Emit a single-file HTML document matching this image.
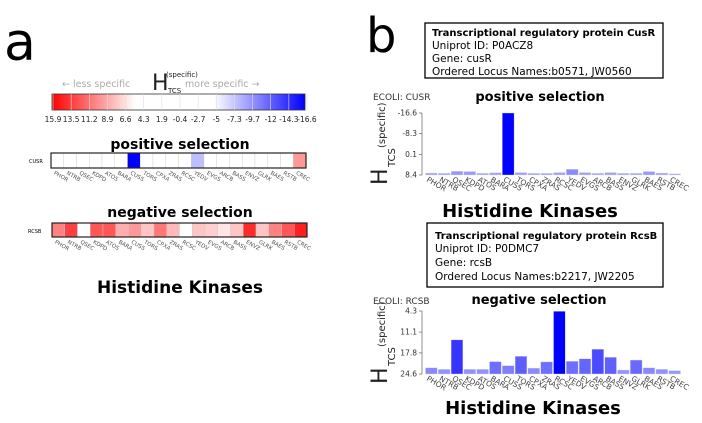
<!DOCTYPE html>
<html><head><meta charset="utf-8"><style>
html,body{margin:0;padding:0;background:#fff;}
svg{display:block;font-family:"DejaVu Sans","Liberation Sans",sans-serif;}
</style></head><body>
<svg id="fig" width="702" height="423" viewBox="0 0 702 423">
  <text x="4" y="60" font-size="52" fill="#000">a</text>
  <text x="366" y="52" font-size="48" fill="#000">b</text>

  <g>
    <text x="62" y="87" font-size="9.5" fill="#aaa">← less specific</text>
    <text x="185" y="87" font-size="9.5" fill="#aaa">more specific →</text>
    <text x="152" y="90" font-size="22" fill="#222">H</text>
    <text x="168" y="93" font-size="7" fill="#222">TCS</text>
    <text x="166" y="77" font-size="7" fill="#222">(specific)</text>
    <defs>
      <linearGradient id="cg" x1="0" x2="1" y1="0" y2="0">
        <stop offset="0" stop-color="#ff0000"/>
        <stop offset="0.33" stop-color="#fff"/>
        <stop offset="0.64" stop-color="#fff"/>
        <stop offset="1" stop-color="#0000ff"/>
      </linearGradient>
    </defs>
    <rect x="52" y="94" width="253" height="16" fill="url(#cg)" stroke="#333" stroke-width="0.8"/>
    <g id="cbticks"></g>
  </g>

  <text x="180" y="149" font-size="14" font-weight="bold" text-anchor="middle">positive selection</text>
  <text x="180" y="217" font-size="14" font-weight="bold" text-anchor="middle">negative selection</text>
  <text x="29" y="163" font-size="5">CUSR</text>
  <text x="28" y="233" font-size="5">RCSB</text>
  <g id="hm1"></g>
  <g id="hm2"></g>
  <text x="180" y="293" font-size="17" font-weight="bold" text-anchor="middle">Histidine Kinases</text>

  <g>
    <rect x="425" y="23" width="238" height="55" fill="#fff" stroke="#000" stroke-width="1.3"/>
    <text x="432" y="36" font-size="10" font-weight="bold">Transcriptional regulatory protein CusR</text>
    <text x="432" y="49" font-size="10.5">Uniprot ID: P0ACZ8</text>
    <text x="432" y="62" font-size="10.5">Gene: cusR</text>
    <text x="432" y="75" font-size="10.5">Ordered Locus Names:b0571, JW0560</text>
  </g>
  <g>
    <rect x="427" y="223" width="236" height="64" fill="#fff" stroke="#000" stroke-width="1.3"/>
    <text x="435" y="239" font-size="10" font-weight="bold">Transcriptional regulatory protein RcsB</text>
    <text x="435" y="252" font-size="10.5">Uniprot ID: P0DMC7</text>
    <text x="435" y="266" font-size="10.5">Gene: rcsB</text>
    <text x="435" y="280" font-size="10.5">Ordered Locus Names:b2217, JW2205</text>
  </g>

  <text x="373" y="100" font-size="9" fill="#333">ECOLI: CUSR</text>
  <text x="540" y="101" font-size="13" font-weight="bold" text-anchor="middle">positive selection</text>
  <text x="373" y="304" font-size="9" fill="#333">ECOLI: RCSB</text>
  <text x="539" y="304" font-size="13" font-weight="bold" text-anchor="middle">negative selection</text>
  <g id="bc1"></g>
  <g id="bc2"></g>
  <text x="530" y="217" font-size="18" font-weight="bold" text-anchor="middle">Histidine Kinases</text>
  <text x="533" y="414" font-size="18" font-weight="bold" text-anchor="middle">Histidine Kinases</text>
</svg>
<script>
const kinases = ["PHOR","NTRB","QSEC","KDPD","ATOS","BARA","CUSS","TORS","CPXA","ZRAS","RCSC","YEDV","EVGS","ARCB","BASS","ENVZ","GLRK","BAES","RSTB","CREC"];
const colorbarTicks = ["15.9","13.5","11.2","8.9","6.6","4.3","1.9","-0.4","-2.7","-5","-7.3","-9.7","-12","-14.3","-16.6"];
const heatPositive = [2,2,2,2,2,2,-16.6,2,2,2,2,-8,2,2,2,2,2,2,2,9];
const heatNegative = [10,13,3,12,12,8,9,7,10.5,7.5,3,7,6.5,5.5,7,14,7,10,12,14.5];
const pos1Ticks = [-16.6,-8.3,0.1,8.4];
const pos1Values = [7.6,7.7,6.9,7.0,7.7,7.5,-16.6,7.4,7.7,7.7,7.4,6.1,7.4,7.7,7.4,7.7,7.7,7.0,7.6,7.9];
const neg2Ticks = [4.3,11.1,17.8,24.6];
const neg2Values = [22.6,23.1,13.6,23.1,23.1,20.6,21.9,18.9,22.7,20.7,4.4,20.5,19.7,16.6,19.2,23.3,20.1,22.6,23.1,23.5];

const NS="http://www.w3.org/2000/svg";
function mk(tag,attrs,parent){const e=document.createElementNS(NS,tag);for(const k in attrs)e.setAttribute(k,attrs[k]);parent.appendChild(e);return e;}
function heatColor(v){
  if(v>=4.3){const t=Math.min(1,(v-4.3)/11.6);const c=Math.round(255*(1-t));return `rgb(255,${c},${c})`;}
  if(v<=-5){const t=Math.min(1,(-5-v)/11.6);const c=Math.round(255*(1-t));return `rgb(${c},${c},255)`;}
  return "#fff";
}
const cb=document.getElementById('cbticks');
colorbarTicks.forEach((t,i)=>{
  const x=53+i*(254/14);
  const ln=mk('line',{x1:x,x2:x,y1:94,y2:110,stroke:'#ddd','stroke-width':0.6},cb);
  
  
  const tx=mk('text',{x:x,y:122,'font-size':7.5,'text-anchor':'middle',fill:'#222'},cb);
  tx.textContent=t;
  
  
});
function heatRow(g,vals,x0,x1,y0,y1){
  const w=(x1-x0)/vals.length;
  vals.forEach((v,i)=>{
    const r=mk('rect',{x:x0+i*w,y:y0,width:w,height:y1-y0,fill:heatColor(v),stroke:'#ccc','stroke-width':0.4},g);
    
    
    const cx=x0+i*w+w/2-4, cy=y1+6;
    const t=mk('text',{x:cx,y:cy,'font-size':5.5,fill:'#555',transform:`rotate(30 ${cx} ${cy})`},g);
    t.textContent=kinases[i];
    
    
  });
  const b=mk('rect',{x:x0,y:y0,width:x1-x0,height:y1-y0,fill:'none',stroke:'#222','stroke-width':1.2},g);
  
  
}
heatRow(document.getElementById('hm1'),heatPositive,51,306,153,168);
heatRow(document.getElementById('hm2'),heatNegative,52,307,223,237);

function barChart(g,vals,ticks,yTop,yBot,x0,x1,axisX){
  const tMin=ticks[0],tMax=ticks[ticks.length-1];
  const ys=v=>yTop+(v-tMin)/(tMax-tMin)*(yBot-yTop);
  const w=(x1-x0)/vals.length;
  vals.forEach((v,i)=>{
    const frac=(tMax-v)/(tMax-tMin);
    const a=0.22+0.78*Math.sqrt(frac);
    const y=ys(v);
    const r=mk('rect',{x:x0+i*w+0.5,y:y,width:w-1,height:Math.max(0.5,yBot-y),fill:`rgba(0,0,255,${a.toFixed(3)})`,stroke:'#ddd','stroke-width':0.4},g);
    
    
    const cx=x0+i*w+1, cy=yBot+6;
    const t=mk('text',{x:cx,y:cy,'font-size':7.5,fill:'#444',transform:`rotate(30 ${cx} ${cy})`},g);
    t.textContent=kinases[i];
    
    
  });
  const ax=mk('line',{x1:axisX,x2:axisX,y1:yTop,y2:yBot,stroke:'#777','stroke-width':0.8},g);
  
  
  ticks.forEach(tv=>{
    const y=ys(tv);
    const tk=mk('line',{x1:axisX-3,x2:axisX,y1:y,y2:y,stroke:'#777','stroke-width':0.8},g);
    
    
    const t=mk('text',{x:axisX-5,y:y+2.5,'font-size':7.5,'text-anchor':'end',fill:'#333'},g);
    t.textContent=tv;
    
    
  });
  const yt=mk('g',{transform:`translate(387,${yBot+10}) rotate(-90)`},g);
  
  
  const h=mk('text',{x:0,y:0,'font-size':22,fill:'#222'},yt);h.textContent='H';
  const s=mk('text',{x:18,y:8,'font-size':10,fill:'#222'},yt);s.textContent='TCS';
  const p=mk('text',{x:37,y:-2,'font-size':10,fill:'#222'},yt);p.textContent='(specific)';
}
barChart(document.getElementById('bc1'),pos1Values,pos1Ticks,113,175,425,681,422);
barChart(document.getElementById('bc2'),neg2Values,neg2Ticks,311,374,425,681,422);
</script>
</body></html>
